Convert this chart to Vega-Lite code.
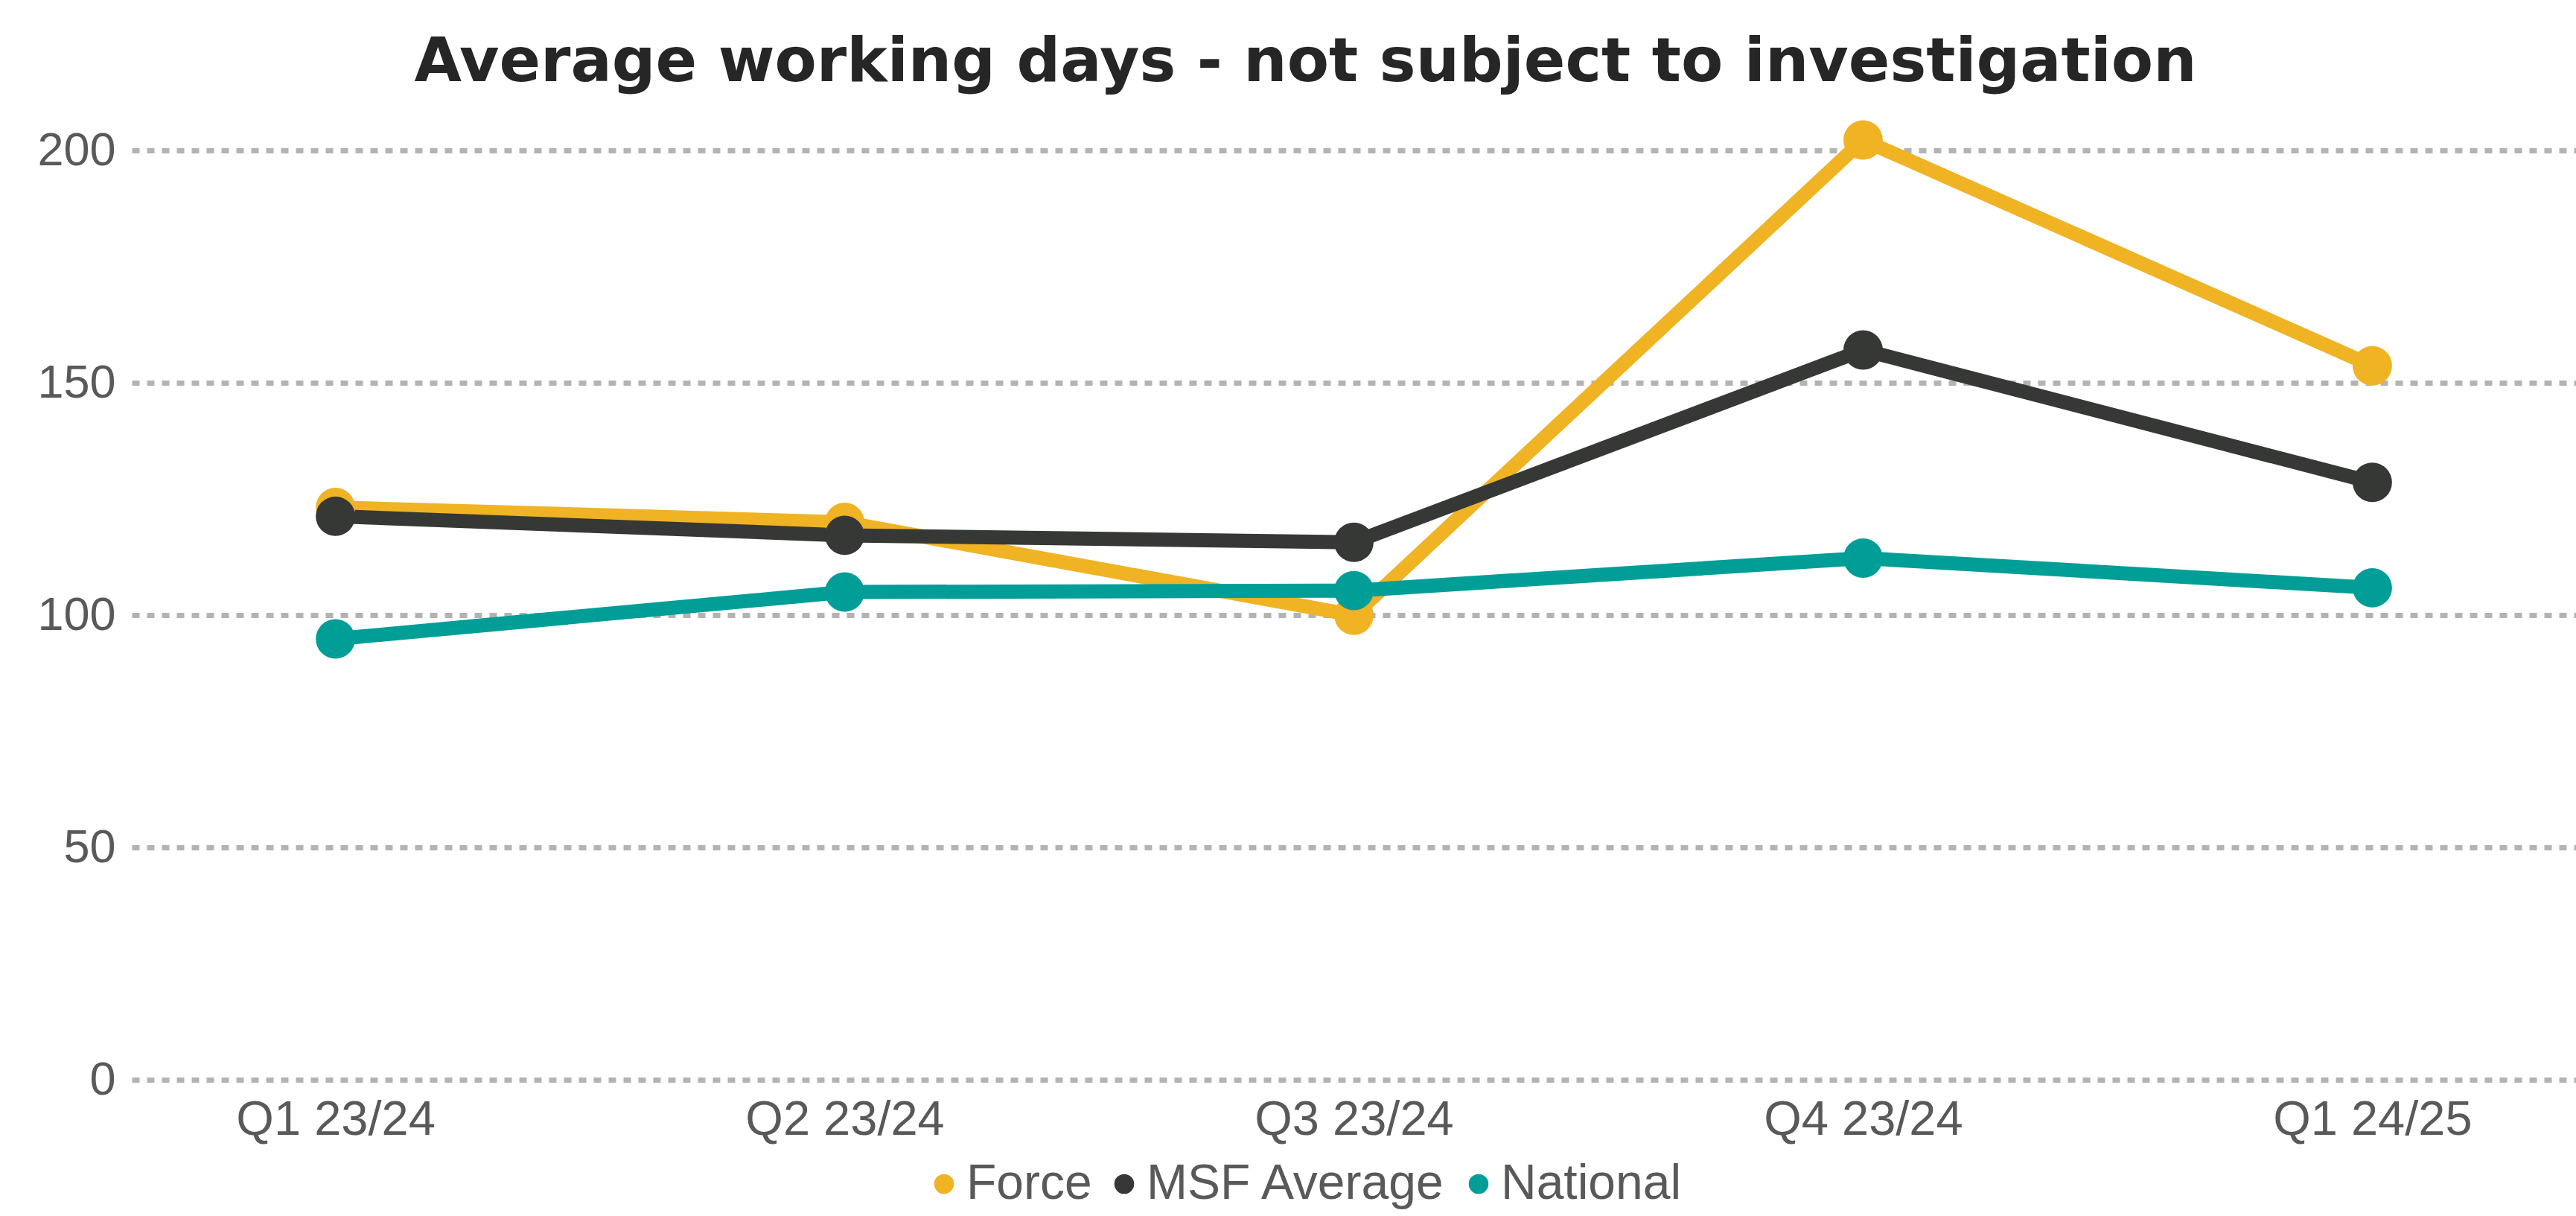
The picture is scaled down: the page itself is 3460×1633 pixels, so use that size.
{
  "$schema": "https://vega.github.io/schema/vega-lite/v6.json",
  "autosize": {"type": "none"},
  "width": 3283,
  "height": 1310,
  "padding": {"left": 177, "top": 140, "right": 0, "bottom": 183},
  "background": "white",
  "title": {
    "text": "Average working days - not subject to investigation",
    "font": "DejaVu Sans",
    "fontSize": 82,
    "fontWeight": "bold",
    "color": "#262626",
    "anchor": "middle",
    "dx": -65,
    "offset": 14
  },
  "data": {
    "values": [
      {"quarter": "Q1 23/24", "series": "Force", "value": 123.2},
      {"quarter": "Q2 23/24", "series": "Force", "value": 120.0},
      {"quarter": "Q3 23/24", "series": "Force", "value": 100.0},
      {"quarter": "Q4 23/24", "series": "Force", "value": 202.3},
      {"quarter": "Q1 24/25", "series": "Force", "value": 153.7},
      {"quarter": "Q1 23/24", "series": "MSF Average", "value": 121.3},
      {"quarter": "Q2 23/24", "series": "MSF Average", "value": 117.2},
      {"quarter": "Q3 23/24", "series": "MSF Average", "value": 115.7},
      {"quarter": "Q4 23/24", "series": "MSF Average", "value": 157.1},
      {"quarter": "Q1 24/25", "series": "MSF Average", "value": 128.6},
      {"quarter": "Q1 23/24", "series": "National", "value": 94.9},
      {"quarter": "Q2 23/24", "series": "National", "value": 105.0},
      {"quarter": "Q3 23/24", "series": "National", "value": 105.3},
      {"quarter": "Q4 23/24", "series": "National", "value": 112.3},
      {"quarter": "Q1 24/25", "series": "National", "value": 105.9}
    ]
  },
  "encoding": {
    "x": {
      "field": "quarter",
      "type": "ordinal",
      "sort": ["Q1 23/24", "Q2 23/24", "Q3 23/24", "Q4 23/24", "Q1 24/25"],
      "scale": {"type": "point", "padding": 0.4},
      "axis": {
        "title": null,
        "labelAngle": 0,
        "labelFont": "Liberation Sans",
        "labelFontSize": 65,
        "labelColor": "#595959",
        "labelPadding": 22,
        "labelLimit": 0,
        "domain": false,
        "ticks": false,
        "grid": false
      }
    },
    "y": {
      "field": "value",
      "type": "quantitative",
      "scale": {"domain": [0, 210], "nice": false, "zero": true},
      "axis": {
        "title": null,
        "values": [0, 50, 100, 150, 200],
        "labelFont": "Liberation Sans",
        "labelFontSize": 63,
        "labelColor": "#595959",
        "labelPadding": 22,
        "labelLimit": 0,
        "domain": false,
        "ticks": false,
        "grid": true,
        "gridColor": "#B3B3B3",
        "gridWidth": 7,
        "gridDash": [10, 10]
      }
    },
    "color": {
      "field": "series",
      "type": "nominal",
      "scale": {
        "domain": ["Force", "MSF Average", "National"],
        "range": ["#EFB324", "#363835", "#009E96"]
      },
      "legend": {
        "title": null,
        "orient": "none",
        "direction": "horizontal",
        "legendX": 1058,
        "legendY": 1417,
        "symbolType": "circle",
        "symbolSize": 707,
        "symbolStrokeWidth": 0,
        "labelFont": "Liberation Sans",
        "labelFontSize": 66,
        "labelColor": "#595959",
        "labelOffset": -3,
        "labelLimit": 0,
        "columnPadding": 10
      }
    }
  },
  "layer": [
    {"mark": {"type": "line", "strokeWidth": 19, "clip": false}},
    {"mark": {"type": "point", "filled": true, "size": 2800, "opacity": 1, "clip": false}}
  ],
  "config": {
    "view": {"stroke": null},
    "font": "Liberation Sans"
  }
}
